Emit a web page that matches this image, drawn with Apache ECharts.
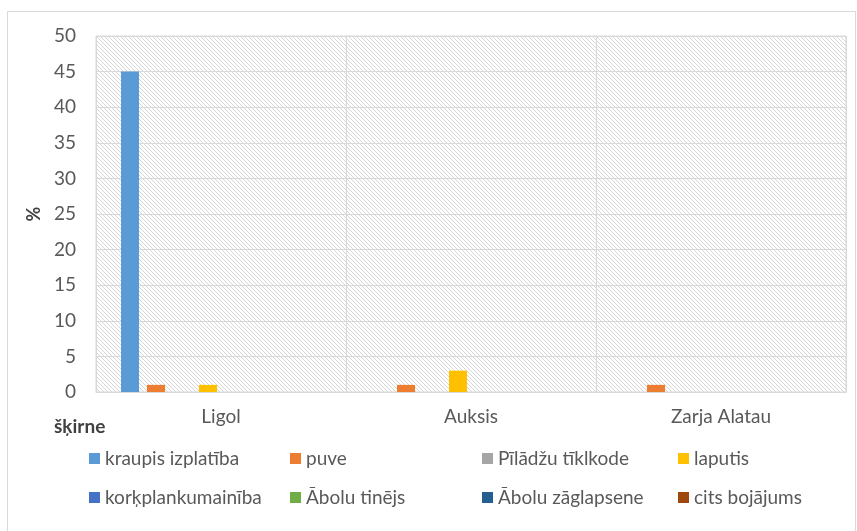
<!DOCTYPE html>
<html>
<head>
<meta charset="utf-8">
<script src="https://cdn.jsdelivr.net/npm/echarts@6/dist/echarts.min.js"></script>
<style>
  html, body { margin: 0; padding: 0; background: #fff; }
  #chart { width: 857px; height: 531px; }
</style>
</head>
<body>
<div id="chart"></div>
<script>
// Varieties on the category axis
const categories = ['Ligol', 'Auksis', 'Zarja Alatau'];

// Damage types (series) and their share, %
const seriesNames = [
  'kraupis izplatība', 'puve', 'Pīlādžu tīklkode', 'laputis',
  'korķplankumainība', 'Ābolu tinējs', 'Ābolu zāglapsene', 'cits bojājums'
];
const kraupis = [45, 0, 0];
const puve = [1, 1, 1];
const piladzu = [0, 0, 0];
const laputis = [1, 3, 0];
const korkplank = [0, 0, 0];
const tinejs = [0, 0, 0];
const zaglapsene = [0, 0, 0];
const cits = [0, 0, 0];
const seriesValues = [kraupis, puve, piladzu, laputis, korkplank, tinejs, zaglapsene, cits];

const palette = ['#5B9BD5', '#ED7D31', '#A5A5A5', '#FFC000', '#4472C4', '#70AD47', '#255E91', '#9E480E'];

// Y axis ticks
const yMin = 0, yMax = 50, yStep = 5;

// Diagonal hatch used as the plot-area fill
function hatchCanvas() {
  const c = document.createElement('canvas');
  c.width = 8; c.height = 8;
  const g = c.getContext('2d');
  g.fillStyle = '#ffffff';
  g.fillRect(0, 0, 8, 8);
  g.strokeStyle = '#d6d6d6';
  g.lineWidth = 1;
  g.beginPath();
  for (let k = -8; k <= 8; k += 4) {
    g.moveTo(k, 0);
    g.lineTo(k + 8, 8);
  }
  g.stroke();
  return c;
}

const font = 'Lato, "Noto Sans", sans-serif';
const textColor = '#595959';

const chart = echarts.init(document.getElementById('chart'), null, { renderer: 'canvas' });

const legendCols = [89, 290, 482, 678];
const legends = legendCols.map((x, i) => ({
  left: x,
  top: 449,
  padding: 0,
  orient: 'vertical',
  itemWidth: 11,
  itemHeight: 11,
  itemGap: 20,
  icon: 'rect',
  data: [seriesNames[i], seriesNames[i + 4]],
  textStyle: { color: textColor, fontSize: 19, fontFamily: font },
  selectedMode: false
}));

chart.setOption({
  animation: false,
  backgroundColor: '#ffffff',
  textStyle: { fontFamily: font },
  graphic: [
    {
      type: 'rect',
      shape: { x: 7.5, y: 11.5, width: 848, height: 530 },
      style: { fill: 'none', stroke: '#d9d9d9', lineWidth: 1 },
      silent: true
    },
    {
      type: 'text',
      left: 54,
      top: 417,
      style: { text: 'šķirne', fill: '#404040', font: 'bold 19px ' + font }
    }
  ],
  legend: legends,
  grid: {
    left: 96,
    top: 36,
    width: 750,
    height: 356,
    show: true,
    backgroundColor: { image: hatchCanvas(), repeat: 'repeat' },
    borderColor: '#d9d9d9',
    borderWidth: 1
  },
  xAxis: {
    type: 'category',
    data: categories,
    axisLine: { show: true, lineStyle: { color: '#d9d9d9' } },
    axisTick: { show: false },
    splitLine: { show: true, lineStyle: { color: '#d9d9d9', width: 1 } },
    axisLabel: { color: textColor, fontSize: 19, fontFamily: font, margin: 15 }
  },
  yAxis: {
    type: 'value',
    min: yMin,
    max: yMax,
    interval: yStep,
    name: '%',
    nameLocation: 'middle',
    nameGap: 53,
    nameTextStyle: { color: '#404040', fontSize: 18, fontWeight: 'bold', fontFamily: font },
    axisLine: { show: false },
    axisTick: { show: false },
    splitLine: { lineStyle: { color: '#d9d9d9', width: 1 } },
    axisLabel: { color: textColor, fontSize: 19, fontFamily: font, margin: 20 }
  },
  series: seriesNames.map((name, i) => ({
    name: name,
    type: 'bar',
    data: seriesValues[i],
    barGap: '44.4%',
    barCategoryGap: '20%',
    itemStyle: { color: palette[i] }
  }))
});
</script>
</body>
</html>
